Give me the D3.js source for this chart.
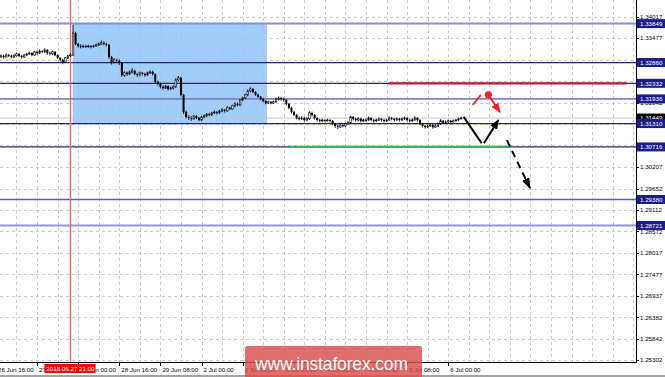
<!DOCTYPE html>
<html><head><meta charset="utf-8">
<script src="https://cdn.jsdelivr.net/npm/d3@7"></script>
<style>body{margin:0;background:#fff;} svg{display:block;font-family:"Liberation Sans",Arial,sans-serif;}</style>
</head><body><svg id="c" width="665" height="377"></svg>
<script>
// ---- DATA (GBPUSD H1, first candle 2018-06-26 17:00) ----
const firstOpen = 1.3302;
const closes = [
1.3300,1.3303,1.3300,1.3305,1.3303,1.3300,1.3303,1.3308,1.3303,1.3300,
1.3305,1.3308,1.3310,1.3305,1.3313,1.3310,1.3315,1.3313,1.3318,1.3310,
1.3308,1.3313,1.3305,1.3298,1.3293,1.3287,1.3298,1.3303,1.3305,1.3361,
1.3333,1.3328,1.3326,1.3328,1.3326,1.3328,1.3326,1.3328,1.3331,1.3333,
1.3336,1.3333,1.3331,1.3300,1.3287,1.3293,1.3290,1.3285,1.3254,1.3260,
1.3257,1.3262,1.3265,1.3257,1.3254,1.3260,1.3257,1.3254,1.3260,1.3262,
1.3257,1.3237,1.3232,1.3224,1.3221,1.3226,1.3219,1.3221,1.3224,1.3242,
1.3247,1.3204,1.3160,1.3148,1.3145,1.3143,1.3150,1.3145,1.3140,1.3148,
1.3150,1.3155,1.3153,1.3158,1.3160,1.3158,1.3163,1.3166,1.3163,1.3171,
1.3168,1.3176,1.3181,1.3178,1.3191,1.3196,1.3204,1.3214,1.3219,1.3211,
1.3204,1.3199,1.3193,1.3188,1.3183,1.3186,1.3183,1.3186,1.3193,1.3196,
1.3193,1.3191,1.3181,1.3171,1.3160,1.3153,1.3145,1.3143,1.3145,1.3140,
1.3143,1.3158,1.3153,1.3145,1.3140,1.3138,1.3140,1.3138,1.3140,1.3138,
1.3130,1.3125,1.3122,1.3127,1.3125,1.3130,1.3133,1.3148,1.3143,1.3140,
1.3143,1.3138,1.3140,1.3140,1.3145,1.3140,1.3138,1.3140,1.3143,1.3140,
1.3138,1.3140,1.3145,1.3143,1.3140,1.3143,1.3140,1.3143,1.3145,1.3140,
1.3138,1.3140,1.3145,1.3140,1.3130,1.3125,1.3122,1.3125,1.3127,1.3122,
1.3125,1.3130,1.3138,1.3133,1.3135,1.3138,1.3135,1.3138,1.3140,1.3143,1.3145];
const highs = [
1.3306,1.3307,1.3306,1.3309,1.3308,1.3306,1.3307,1.3311,1.3310,1.3305,
1.3308,1.3311,1.3314,1.3312,1.3316,1.3316,1.3319,1.3318,1.3322,1.3320,
1.3314,1.3316,1.3315,1.3307,1.3300,1.3296,1.3300,1.3306,1.3310,1.3382,
1.3364,1.3336,1.3332,1.3331,1.3331,1.3331,1.3330,1.3331,1.3334,1.3337,
1.3342,1.3340,1.3336,1.3333,1.3303,1.3297,1.3296,1.3294,1.3287,1.3264,
1.3263,1.3266,1.3272,1.3268,1.3260,1.3263,1.3262,1.3260,1.3263,1.3266,
1.3265,1.3258,1.3240,1.3235,1.3228,1.3229,1.3228,1.3225,1.3228,1.3246,
1.3252,1.3250,1.3206,1.3164,1.3152,1.3150,1.3153,1.3152,1.3148,1.3151,
1.3154,1.3158,1.3158,1.3161,1.3164,1.3163,1.3166,1.3170,1.3168,1.3175,
1.3174,1.3179,1.3185,1.3184,1.3193,1.3199,1.3207,1.3217,1.3223,1.3221,
1.3213,1.3207,1.3201,1.3196,1.3190,1.3189,1.3188,1.3189,1.3197,1.3200,
1.3199,1.3197,1.3193,1.3183,1.3174,1.3163,1.3155,1.3149,1.3149,1.3148,
1.3147,1.3162,1.3161,1.3155,1.3147,1.3143,1.3143,1.3142,1.3143,1.3142,
1.3140,1.3133,1.3128,1.3130,1.3129,1.3133,1.3137,1.3151,1.3150,1.3146,
1.3147,1.3146,1.3143,1.3144,1.3149,1.3147,1.3143,1.3143,1.3146,1.3145,
1.3143,1.3143,1.3149,1.3148,1.3145,1.3146,1.3145,1.3146,1.3149,1.3147,
1.3143,1.3144,1.3150,1.3147,1.3142,1.3133,1.3128,1.3129,1.3131,1.3130,
1.3129,1.3134,1.3142,1.3140,1.3139,1.3141,1.3140,1.3141,1.3143,1.3146,1.3148];
const lows = [
1.3297,1.3298,1.3296,1.3299,1.3300,1.3297,1.3298,1.3301,1.3300,1.3296,
1.3298,1.3302,1.3305,1.3302,1.3303,1.3306,1.3308,1.3310,1.3311,1.3306,
1.3304,1.3305,1.3302,1.3295,1.3289,1.3283,1.3285,1.3295,1.3300,1.3303,
1.3330,1.3324,1.3322,1.3323,1.3323,1.3324,1.3322,1.3324,1.3326,1.3328,
1.3330,1.3330,1.3327,1.3296,1.3281,1.3284,1.3285,1.3280,1.3250,1.3250,
1.3252,1.3254,1.3258,1.3254,1.3250,1.3251,1.3253,1.3250,1.3252,1.3257,
1.3253,1.3234,1.3228,1.3220,1.3217,1.3219,1.3215,1.3216,1.3218,1.3222,
1.3238,1.3200,1.3155,1.3144,1.3140,1.3138,1.3141,1.3142,1.3137,1.3138,
1.3144,1.3148,1.3150,1.3150,1.3155,1.3154,1.3155,1.3160,1.3159,1.3161,
1.3165,1.3166,1.3172,1.3175,1.3176,1.3188,1.3193,1.3200,1.3210,1.3208,
1.3201,1.3196,1.3190,1.3185,1.3180,1.3181,1.3180,1.3181,1.3184,1.3190,
1.3189,1.3186,1.3177,1.3167,1.3156,1.3150,1.3142,1.3139,1.3140,1.3136,
1.3137,1.3140,1.3149,1.3141,1.3136,1.3134,1.3135,1.3135,1.3136,1.3134,
1.3127,1.3120,1.3117,1.3120,1.3121,1.3123,1.3128,1.3130,1.3139,1.3136,
1.3137,1.3134,1.3135,1.3136,1.3138,1.3137,1.3134,1.3135,1.3137,1.3136,
1.3134,1.3135,1.3138,1.3139,1.3136,1.3138,1.3136,1.3138,1.3140,1.3136,
1.3134,1.3135,1.3138,1.3136,1.3127,1.3121,1.3118,1.3120,1.3122,1.3118,
1.3120,1.3122,1.3128,1.3130,1.3131,1.3133,1.3132,1.3134,1.3136,1.3138,1.3141];

const priceTicks = [1.34017,1.33477,1.32932,1.32392,1.31842,1.31302,1.30757,1.30207,1.29652,1.29112,1.28572,1.28017,1.27477,1.26937,1.26382,1.25842,1.25302];
const timeLabels = ["26 Jun 16:00","27 Jun 08:00","28 Jun 00:00","28 Jun 16:00","29 Jun 08:00","2 Jul 00:00","2 Jul 16:00","3 Jul 08:00","4 Jul 00:00","4 Jul 16:00","5 Jul 08:00","6 Jul 00:00"];
const levelPrices = [1.33849,1.32860,1.32332,1.31936,1.31310,1.30716,1.29380,1.28721];
const bidPrice = 1.31449;
const markerTime = "2018.06.27 21:00";   // candle index 28
const markerIndex = 28;
const zoneIdx = [28.9, 104.5], zonePrice = [1.3132, 1.3386];
const resistance = {price: 1.32332, from: 151.7, to: 244.6};
const support = {price: 1.30716, from: 113.4, to: 199.0};
const pathDown = [[181, 1.3148], [188.0, 1.3081]];
const arrowUp = [[188.9, 1.3081], [194.5, 1.3140]];
const redLine = [[184.5, 1.3178], [187.7, 1.3204]];
const redDot = [190.6, 1.3204];
const redArrow = [[191.3, 1.3197], [195.1, 1.3160]];
const dashArrow = [[197.8, 1.3089], [206.8, 1.2967]];

// ---- STYLES ----
const levelStyles = [
 {c:"#8c8cd8",w:2},{c:"#24248c",w:1.3},{c:"#24248c",w:1.3},{c:"#8282d0",w:1.6},
 {c:"#24248c",w:1.3},{c:"#24248c",w:1.3},{c:"#5a5abe",w:1.5},{c:"#9494d4",w:2}];

const W = 636, H = 362;
const svg = d3.select("#c");
const x = d3.scaleLinear().domain([0, 180]).range([-1.5, 461.1]);
const y = d3.scaleLinear().domain([1.25302, 1.34017]).range([360, 17]);

svg.append("defs").html(`
 <clipPath id="plot"><rect x="0" y="0" width="${W}" height="${H}"/></clipPath>
 <marker id="ahB" markerUnits="userSpaceOnUse" markerWidth="10" markerHeight="8" refX="9" refY="4" orient="auto"><path d="M0,0 L10,4 L0,8 z" fill="#000"/></marker>
 <marker id="ahB2" markerUnits="userSpaceOnUse" markerWidth="11" markerHeight="8" refX="10" refY="4" orient="auto"><path d="M0,0 L11,4 L0,8 z" fill="#000"/></marker>
 <marker id="ahR" markerUnits="userSpaceOnUse" markerWidth="10" markerHeight="8" refX="9" refY="4" orient="auto"><path d="M0,0 L10,4 L0,8 z" fill="#ee2222"/></marker>`);

const plot = svg.append("g").attr("clip-path","url(#plot)");

// zone rectangle
plot.append("rect").attr("x", x(zoneIdx[0])).attr("y", y(zonePrice[1]))
  .attr("width", x(zoneIdx[1]) - x(zoneIdx[0])).attr("height", y(zonePrice[0]) - y(zonePrice[1]))
  .attr("fill", "#a1cdfb");

// grid
const idxMax = x.invert(W);
const gridIdx = d3.range(-1, idxMax, 8);
plot.selectAll(".vg").data(gridIdx).join("line").attr("x1", d=>Math.round(x(d))+0.5).attr("x2", d=>Math.round(x(d))+0.5)
  .attr("y1",0).attr("y2",H).attr("stroke","#bdbdbd").attr("stroke-width",0.8).attr("stroke-dasharray","3,3");
plot.selectAll(".hg").data(priceTicks).join("line").attr("x1",0).attr("x2",W)
  .attr("y1", d=>Math.round(y(d))+0.5).attr("y2", d=>Math.round(y(d))+0.5)
  .attr("stroke","#bdbdbd").attr("stroke-width",0.8).attr("stroke-dasharray","3,3");

// level lines
plot.selectAll(".lv").data(levelPrices).join("line").attr("x1",0).attr("x2",W)
  .attr("y1", d=>y(d)).attr("y2", d=>y(d))
  .attr("stroke",(d,i)=>levelStyles[i].c).attr("stroke-width",(d,i)=>levelStyles[i].w);
// bid line
plot.append("line").attr("x1",0).attr("x2",W).attr("y1",y(bidPrice)).attr("y2",y(bidPrice))
  .attr("stroke","#c4c4c4").attr("stroke-width",1);

// marker vertical line
plot.append("line").attr("x1",x(markerIndex)).attr("x2",x(markerIndex)).attr("y1",0).attr("y2",H)
  .attr("stroke","#f26a6a").attr("stroke-width",1.4);

// candles
const candles = closes.map((c,i)=>({i, o: i===0 ? firstOpen : closes[i-1], h: highs[i], l: lows[i], c}));
const cg = plot.append("g");
cg.selectAll(".wk").data(candles).join("line")
  .attr("x1", d=>x(d.i)).attr("x2", d=>x(d.i))
  .attr("y1", d=>y(Math.max(d.h, d.o, d.c))).attr("y2", d=>y(Math.min(d.l, d.o, d.c)))
  .attr("stroke","#000").attr("stroke-width",0.9);
cg.selectAll(".bd").data(candles).join("rect")
  .attr("x", d=> d.c>=d.o ? x(d.i)-0.8 : x(d.i)-1)
  .attr("width", d=> d.c>=d.o ? 1.6 : 2)
  .attr("y", d=>y(Math.max(d.o,d.c)))
  .attr("height", d=>Math.max(0.8, y(Math.min(d.o,d.c)) - y(Math.max(d.o,d.c))))
  .attr("fill", d=> d.c>=d.o ? "#fff" : "#000")
  .attr("stroke", d=> d.c>=d.o ? "#000" : "none").attr("stroke-width",0.6);

// resistance / support
plot.append("line").attr("x1",x(resistance.from)).attr("x2",x(resistance.to))
  .attr("y1",y(resistance.price)).attr("y2",y(resistance.price)).attr("stroke","#cc1236").attr("stroke-width",2.2);
plot.append("line").attr("x1",x(support.from)).attr("x2",x(support.to))
  .attr("y1",y(support.price)).attr("y2",y(support.price)).attr("stroke","#3cb451").attr("stroke-width",2.2);

// annotations
const seg = (pts) => d3.line().x(d=>x(d[0])).y(d=>y(d[1]))(pts);
plot.append("path").attr("d", seg(pathDown)).attr("stroke","#000").attr("stroke-width",2).attr("fill","none");
plot.append("path").attr("d", seg(arrowUp)).attr("stroke","#000").attr("stroke-width",2).attr("fill","none").attr("marker-end","url(#ahB)");
plot.append("path").attr("d", seg(redLine)).attr("stroke","#ee2222").attr("stroke-width",1.8).attr("fill","none");
plot.append("circle").attr("cx",x(redDot[0])).attr("cy",y(redDot[1])).attr("r",3.6).attr("fill","#ee2222");
plot.append("path").attr("d", seg(redArrow)).attr("stroke","#ee2222").attr("stroke-width",1.8).attr("fill","none").attr("marker-end","url(#ahR)");
plot.append("path").attr("d", seg(dashArrow)).attr("stroke","#000").attr("stroke-width",2).attr("fill","none")
  .attr("stroke-dasharray","7,5").attr("marker-end","url(#ahB2)");

// axes lines
svg.append("line").attr("x1",W+0.5).attr("x2",W+0.5).attr("y1",0).attr("y2",H+1).attr("stroke","#000").attr("stroke-width",1);
svg.append("line").attr("x1",0).attr("x2",W+1).attr("y1",H+0.5).attr("y2",H+0.5).attr("stroke","#000").attr("stroke-width",1);

// price tick labels
const fs = "6.2px";
svg.selectAll(".pt").data(priceTicks).join("line").attr("x1",W).attr("x2",W+3)
  .attr("y1",d=>Math.round(y(d))+0.5).attr("y2",d=>Math.round(y(d))+0.5).attr("stroke","#000");
svg.selectAll(".pl").data(priceTicks).join("text").attr("x",W+4).attr("y",d=>y(d)+2.2)
  .attr("font-size",fs).attr("fill","#000").text(d=>d.toFixed(5));

// highlighted level labels
const lab = svg.append("g");
const drawLab = (p, bg) => {
  lab.append("rect").attr("x",W+1).attr("y",y(p)-4.5).attr("width",665-W-1).attr("height",9).attr("fill",bg);
  lab.append("text").attr("x",W+4).attr("y",y(p)+2.3).attr("font-size",fs).attr("fill","#fff").text(p.toFixed(5));
};
drawLab(bidPrice, "#000");
levelPrices.forEach(p=>drawLab(p, "#1c1c8c"));

// time labels
const tIdx = timeLabels.map((t,k)=>-1 + 16*k);
svg.selectAll(".tt").data(tIdx).join("line").attr("x1",d=>Math.round(x(d))+0.5).attr("x2",d=>Math.round(x(d))+0.5)
  .attr("y1",H).attr("y2",H+4).attr("stroke","#000");
svg.selectAll(".tl").data(timeLabels).join("text").attr("x",(d,k)=>x(tIdx[k])+2).attr("y",372)
  .attr("font-size",fs).attr("fill","#000").text(d=>d);

// marker time label
const mx = x(markerIndex);
svg.append("rect").attr("x",mx-26).attr("y",364).attr("width",51).attr("height",9).attr("fill","#ff0000");
svg.append("text").attr("x",mx).attr("y",371).attr("text-anchor","middle").attr("font-size",fs).attr("fill","#fff").text(markerTime);

// bottom bar
svg.append("rect").attr("x",0).attr("y",375).attr("width",665).attr("height",2).attr("fill","#a4a4a4");

// watermark
svg.append("rect").attr("x",245).attr("y",346).attr("width",177).attr("height",34).attr("rx",2)
  .attr("fill","#dc4a4a").attr("opacity",0.82);
svg.append("text").attr("x",255).attr("y",369.5).attr("font-size","17.5px").attr("fill","#fff")
  .attr("textLength",153).text("www.instaforex.com");
</script></body></html>
